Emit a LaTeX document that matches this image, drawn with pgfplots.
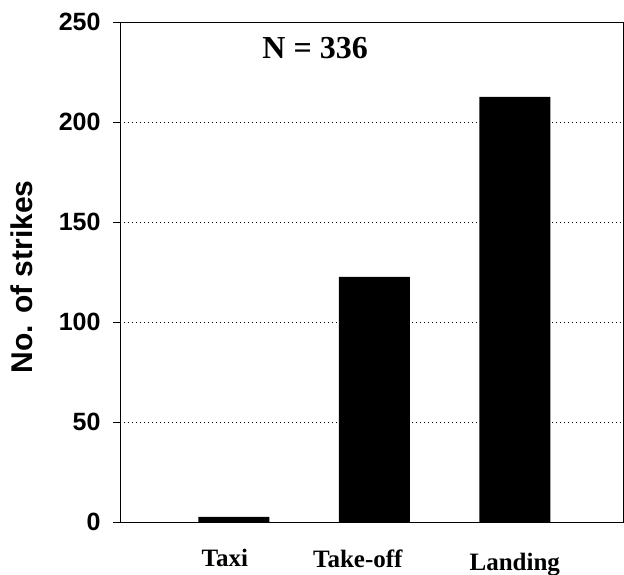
\documentclass[border=0pt]{standalone}
\usepackage{pgfplots}
\pgfplotsset{compat=1.18}
\usepackage{fontspec}
\setmainfont{Liberation Serif}
\setsansfont{Liberation Sans}
\begin{document}
\begin{tikzpicture}
\useasboundingbox (-120pt,-53pt) rectangle (504pt,522pt);
\begin{axis}[
  at={(0pt,0pt)}, anchor=south west,
  scale only axis,
  width=503pt, height=500pt,
  xmin=-0.81, xmax=2.77,
  ymin=0, ymax=250,
  ytick={0,50,100,150,200,250},
  xtick={0,1,2},
  xticklabels={{\hspace*{-18pt}Taxi},{\hspace*{-33pt}\raisebox{-1pt}{Take-off}},{\raisebox{-3.5pt}{Landing}}},
  ybar, bar width=71pt,
  ymajorgrids,
  grid style={black, line width=0.6pt, dash pattern=on 1pt off 3pt},
  axis line style={black, line width=0.6pt},
  tick align=outside,
  major tick length=7pt,
  x tick style={draw=none},
  y tick style={black, line width=0.6pt},
  /pgf/number format/assume math mode=true,
  yticklabel style={font=\sffamily\bfseries\fontsize{25}{25}\selectfont, xshift=-9pt},
  xticklabel style={font=\rmfamily\bfseries\fontsize{25}{25}\selectfont, anchor=base, yshift=-38pt},
  ylabel={No. of strikes},
  ylabel style={font=\sffamily\bfseries\fontsize{30}{30}\selectfont, at={(axis description cs:-0.195,0.49)}, anchor=center},
]
\addplot[fill=black, draw=none] coordinates {(0,2.5) (1,122.5) (2,212.5)};
\node[font=\rmfamily\bfseries\fontsize{32}{32}\selectfont] at (rel axis cs:0.388,0.947) {N = 336};
\end{axis}
\end{tikzpicture}
\end{document}
